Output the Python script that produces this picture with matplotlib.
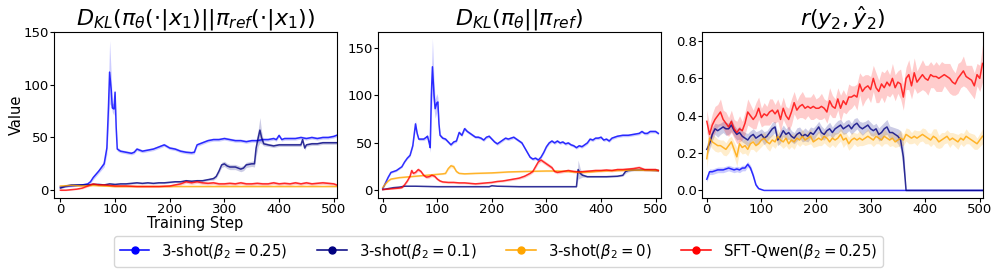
import numpy as np
import matplotlib
matplotlib.use("Agg")
import matplotlib.pyplot as plt
from matplotlib.lines import Line2D

# ---- panel 1 : D_KL(pi_theta(.|x1) || pi_ref(.|x1)) ----
kl1_blue_x = [0, 10, 20, 30, 40, 50, 55, 60, 70, 80, 85, 88, 90, 93, 95, 98, 100, 102, 104, 110,
              120, 130, 135, 140, 145, 150, 160, 170, 180, 190, 200, 210, 220, 230, 240, 245, 250,
              260, 270, 280, 290, 300, 310, 320, 330, 340, 350, 360, 370, 380, 390, 395, 400, 405,
              410, 420, 430, 440, 450, 460, 470, 480, 490, 500, 505]
kl1_blue_y = [3, 3.5, 4, 4.5, 5, 6, 8, 12, 18, 25, 40, 80, 112, 95, 78, 77, 93, 60, 39, 37,
              36, 35, 36, 39, 38, 37, 38, 39, 41, 43, 40, 39, 37, 36, 35.5, 36, 43,
              45, 47, 48, 48, 49, 48, 47, 47, 46, 47, 47, 48, 48, 49, 48, 52, 48,
              49, 49, 49, 50, 49, 50, 49, 50, 50, 51, 52]
kl1_blue_s = [0.8, 0.8, 0.8, 0.8, 0.8, 1, 1.5, 2, 2, 3, 6, 20, 30, 15, 4, 6, 2, 8, 2, 1.5,
              1.5, 1.5, 1.5, 1.5, 1.5, 1.5, 1.5, 1.5, 1.5, 1.5, 1.5, 1.5, 1.5, 1.5, 1.5, 1.5, 1.5,
              1.5, 1.5, 1.5, 1.5, 1.5, 1.5, 1.5, 1.5, 1.5, 1.5, 1.5, 1.5, 1.5, 1.5, 1.5, 1.5, 1.5,
              1.5, 1.5, 1.5, 1.5, 1.5, 1.5, 1.5, 1.5, 1.5, 1.5, 1.5]

kl1_navy_x = [0, 10, 20, 30, 40, 50, 60, 70, 80, 90, 100, 110, 120, 130, 140, 150, 160, 170, 180,
              190, 200, 210, 220, 230, 240, 250, 260, 270, 280, 285, 290, 295, 300, 305, 310, 320,
              330, 335, 340, 350, 355, 358, 362, 365, 368, 372, 380, 390, 400, 410, 420, 430, 440,
              443, 447, 450, 460, 470, 480, 490, 500, 505]
kl1_navy_y = [2, 4, 5, 5, 5, 5, 5.5, 5.5, 5, 6, 5.5, 6, 6, 6.5, 7, 6.5, 7, 6.5, 7,
              7, 7.5, 8, 8, 9, 8.5, 9, 9, 10, 11, 13, 18, 24, 25, 23, 22, 22,
              20, 21, 24, 25, 25, 40, 50, 57, 50, 44, 43, 42, 43, 43, 43, 43, 43,
              48, 40, 43, 44, 44, 45, 45, 45, 45]
kl1_navy_s = [0.8, 0.8, 0.8, 0.8, 0.8, 0.8, 0.8, 0.8, 0.8, 0.8, 0.8, 0.8, 0.8, 0.8, 0.8, 0.8, 0.8, 0.8, 0.8,
              0.8, 0.8, 0.8, 0.8, 1, 1, 1, 1, 1, 1.5, 1.5, 2, 2.5, 2.5, 2.5, 2.5, 2.5,
              2.5, 2.5, 2.5, 2.5, 3, 8, 8, 12, 6, 2, 1.5, 1.5, 1.5, 1.5, 1.5, 1.5, 1.5,
              2, 2, 1.5, 1.5, 1.5, 1.5, 1.5, 1.5, 1.5]

kl1_orange_x = [0, 20, 40, 60, 80, 100, 150, 200, 250, 300, 350, 400, 450, 505]
kl1_orange_y = [4, 4.5, 4, 4.5, 4, 3.5, 3.5, 3.5, 3.5, 3.5, 3.5, 3.5, 3.5, 3.5]
kl1_orange_s = [0.5, 0.5, 0.5, 0.5, 0.5, 0.5, 0.5, 0.5, 0.5, 0.5, 0.5, 0.5, 0.5, 0.5]

kl1_red_x = [0, 10, 20, 30, 40, 50, 60, 70, 80, 90, 100, 120, 140, 160, 180, 200, 210, 220, 230,
             240, 250, 260, 270, 280, 290, 300, 310, 320, 330, 340, 350, 360, 370, 380, 390, 400,
             410, 420, 430, 440, 450, 460, 470, 480, 490, 500, 505]
kl1_red_y = [0, 0, 0.5, 1, 2, 4, 6, 5, 5, 4.5, 4, 4, 3.5, 3.5, 3.5, 4, 5, 6, 8,
             7, 8, 7, 6.5, 7, 6, 6, 6.5, 6, 7, 6, 6, 6.5, 6, 6, 7, 6,
             6.5, 6, 7, 6, 7, 6, 6.5, 7, 6.5, 6, 5]
kl1_red_s = [0.5, 0.5, 0.5, 0.5, 0.8, 1, 1, 1, 1, 1, 1, 1, 1, 1, 1, 1, 1.2, 1.2, 1.5,
             1.5, 1.5, 1.5, 1.5, 1.5, 1.5, 1.5, 1.5, 1.5, 1.5, 1.5, 1.5, 1.5, 1.5, 1.5, 1.5, 1.5,
             1.5, 1.5, 1.5, 1.5, 1.5, 1.5, 1.5, 1.5, 1.5, 1.5, 1.5]

# ---- panel 2 : D_KL(pi_theta || pi_ref) ----
kl2_blue_x = [0, 5, 10, 15, 20, 25, 30, 35, 40, 45, 50, 55, 60, 63, 66, 70, 75, 80, 82, 85, 87,
              89, 91, 94, 96, 99, 101, 103, 105, 110, 115, 120, 125, 130, 135, 140, 145, 150, 155,
              160, 165, 170, 175, 180, 185, 190, 195, 200, 205, 210, 215, 220, 225, 230, 235, 240,
              245, 250, 255, 260, 265, 270, 275, 280, 285, 290, 295, 300, 305, 310, 315, 320, 325,
              330, 335, 340, 345, 350, 355, 360, 365, 370, 375, 380, 385, 390, 395, 400, 405, 410,
              415, 420, 425, 430, 440, 450, 460, 470, 475, 480, 485, 490, 495, 500, 505]
kl2_blue_y = [2, 8, 14, 19, 20, 21, 23, 25, 30, 34, 37, 47, 70, 60, 54, 54, 54, 56, 57, 50, 45,
              100, 130, 100, 86, 92, 93, 70, 58, 55, 54, 51, 48, 51, 52, 61, 58, 65, 62,
              60, 58, 56, 56, 55, 53, 56, 57, 54, 51, 49, 51, 53, 55, 54, 55, 56,
              54, 52, 50, 45, 40, 35, 33, 34, 32, 35, 40, 46, 50, 52, 50, 52, 50,
              51, 49, 50, 48, 47, 45, 47, 46, 48, 50, 54, 53, 55, 55, 56, 53, 54,
              52, 55, 56, 57, 58, 58, 59, 60, 62, 60, 60, 62, 62, 62, 60]
kl2_blue_s = [0.5, 1, 1, 1, 1, 1, 1, 1, 1, 1, 1.5, 2, 4, 2, 1.5, 1.5, 1.5, 2, 2, 3, 5,
              20, 30, 15, 10, 10, 5, 3, 2, 1.5, 1.5, 1.5, 1.5, 1.5, 1.5, 2, 1.5, 2, 1.5,
              1.5, 1.5, 1.5, 1.5, 1.5, 1.5, 1.5, 1.5, 1.5, 1.5, 1.5, 1.5, 1.5, 1.5, 1.5, 1.5, 1.5,
              1.5, 1.5, 1.5, 1.5, 1.5, 1.5, 1.5, 1.5, 1.5, 1.5, 1.5, 1.5, 1.5, 1.5, 1.5, 1.5, 1.5,
              1.5, 1.5, 1.5, 1.5, 1.5, 1.5, 1.5, 1.5, 1.5, 1.5, 1.5, 1.5, 1.5, 1.5, 1.5, 1.5, 1.5,
              1.5, 1.5, 1.5, 1.5, 1.5, 1.5, 1.5, 1.5, 1.5, 1.5, 1.5, 1.5, 1.5, 1.5, 1.5]

kl2_orange_x = [0, 5, 10, 15, 20, 30, 40, 50, 60, 70, 80, 90, 100, 110, 115, 120, 125, 130, 135,
                140, 150, 170, 200, 230, 260, 300, 320, 340, 360, 380, 400, 430, 460, 505]
kl2_orange_y = [3, 7, 10, 12, 12.5, 13.5, 14, 14.5, 15, 15.5, 16, 16.5, 17, 17.5, 18, 23, 26, 25, 20,
                18, 17.5, 18, 18.5, 19.5, 20, 20.5, 20.5, 20, 19, 19.5, 20.5, 21, 21.5, 21]
kl2_orange_s = [0.5, 0.8, 0.8, 0.8, 0.8, 0.8, 0.8, 0.8, 0.8, 0.8, 0.8, 0.8, 0.8, 0.8, 1, 1.5, 2, 2, 1.5,
                0.8, 0.8, 0.8, 0.8, 0.8, 0.8, 0.8, 0.8, 0.8, 0.8, 0.8, 0.8, 0.8, 0.8, 0.8]

kl2_red_x = [0, 10, 20, 30, 35, 40, 45, 50, 53, 56, 60, 65, 70, 75, 80, 85, 90, 95, 100, 105, 110,
             120, 130, 140, 150, 160, 170, 180, 190, 200, 210, 220, 230, 240, 250, 260, 270, 275,
             280, 285, 290, 295, 300, 305, 310, 315, 320, 330, 340, 350, 360, 370, 380, 390, 400,
             410, 420, 430, 440, 450, 460, 470, 480, 490, 500, 505]
kl2_red_y = [1, 1.5, 2, 2.5, 3, 6, 10, 15, 21, 18, 19, 22, 20, 16, 14, 14.5, 16, 15, 12, 10, 9,
             8.5, 8.5, 8, 8, 7.5, 7, 7.5, 8, 8.5, 9.5, 10, 11, 12, 13, 15, 18, 20,
             25, 30, 32, 30, 28, 26, 24, 20, 19, 20, 21, 20, 19.5, 20, 20.5, 21, 21,
             21.5, 21, 22, 22, 22.5, 23, 24, 22, 22, 22, 21]
kl2_red_s = [0.5, 0.5, 0.5, 0.8, 0.8, 1, 1.5, 1.5, 2, 1.5, 1.5, 2, 1.5, 1.5, 1.5, 1.5, 1.5, 1.5, 1.5, 1.2, 1,
             1, 1, 1, 1, 1, 1, 1, 1, 1, 1, 1, 1.2, 1.2, 1.2, 1.5, 1.5, 1.5,
             2, 2, 2, 2, 2, 2, 2, 1.5, 1.5, 1.5, 1.5, 1.5, 1.5, 1.5, 1.5, 1.5, 1.5,
             1.5, 1.5, 1.5, 1.5, 1.5, 2, 2, 1.5, 1.5, 1.5, 1.5]

kl2_navy_x = [0, 10, 20, 30, 40, 60, 100, 150, 195, 200, 210, 250, 300, 355, 358, 362, 366, 375,
              390, 410, 430, 440, 445, 450, 460, 480, 505]
kl2_navy_y = [1, 2, 3, 3.5, 4.5, 4.5, 4, 4, 4, 5, 4.5, 4, 4, 4, 22, 18, 16, 14.5,
              14.5, 14.5, 15, 16, 20, 21, 21.5, 21.5, 21]
kl2_navy_s = [0.3, 0.3, 0.3, 0.3, 0.3, 0.3, 0.3, 0.3, 0.3, 0.3, 0.3, 0.3, 0.3, 0.3, 10, 5, 2, 0.8,
              0.8, 0.8, 0.8, 1, 2, 1.5, 0.8, 0.8, 0.8]

# ---- panel 3 : r(y2, y2_hat), logged every 5 steps ----
r3_red = [0.37, 0.30, 0.35, 0.38, 0.40, 0.42, 0.38, 0.36, 0.34, 0.37, 0.33, 0.31, 0.33, 0.32, 0.36,
          0.42, 0.40, 0.38, 0.40, 0.44, 0.39, 0.41, 0.40, 0.42, 0.43, 0.41, 0.43, 0.38, 0.44, 0.40,
          0.38, 0.42, 0.47, 0.43, 0.45, 0.46, 0.44, 0.45, 0.44, 0.45, 0.44, 0.44, 0.45, 0.44, 0.42,
          0.48, 0.45, 0.44, 0.49, 0.44, 0.48, 0.46, 0.50, 0.50, 0.51, 0.50, 0.57, 0.53, 0.55, 0.56,
          0.54, 0.60, 0.55, 0.53, 0.57, 0.55, 0.58, 0.56, 0.60, 0.55, 0.58, 0.57, 0.50, 0.60, 0.62,
          0.56, 0.63, 0.58, 0.60, 0.62, 0.60, 0.59, 0.62, 0.61, 0.61, 0.60, 0.61, 0.62, 0.61, 0.60,
          0.58, 0.57, 0.60, 0.62, 0.64, 0.61, 0.60, 0.59, 0.56, 0.62, 0.60, 0.68]
r3_red_s = [0.06, 0.05, 0.06, 0.07, 0.06, 0.07, 0.05, 0.06, 0.05, 0.06, 0.05, 0.06, 0.07, 0.05, 0.06,
            0.07, 0.06, 0.05, 0.07, 0.06, 0.05,
            0.06, 0.05, 0.07, 0.06, 0.05, 0.06, 0.07, 0.06, 0.05, 0.06, 0.07, 0.06, 0.05, 0.06, 0.07,
            0.06, 0.05, 0.06, 0.07, 0.05,
            0.06, 0.07, 0.05, 0.06, 0.07, 0.06, 0.05, 0.06, 0.07, 0.06, 0.05, 0.07, 0.06, 0.05, 0.07,
            0.06, 0.08, 0.07, 0.06, 0.07,
            0.07, 0.08, 0.06, 0.07, 0.08, 0.07, 0.06, 0.08, 0.07, 0.06, 0.08, 0.07, 0.06, 0.08, 0.07,
            0.08, 0.06, 0.07, 0.08, 0.07,
            0.08, 0.07, 0.06, 0.08, 0.07, 0.08, 0.06, 0.07, 0.08, 0.07, 0.06, 0.08, 0.07, 0.08, 0.06,
            0.07, 0.08, 0.07, 0.06, 0.07, 0.10]

r3_orange = [0.17, 0.28, 0.26, 0.25, 0.24, 0.24, 0.23, 0.22, 0.24, 0.26, 0.22, 0.18, 0.25, 0.23, 0.24,
             0.22, 0.25, 0.26, 0.24, 0.25, 0.27, 0.28, 0.26, 0.25, 0.27, 0.26, 0.29, 0.27, 0.26, 0.28,
             0.25, 0.27, 0.26, 0.28, 0.27, 0.29, 0.27, 0.28, 0.29, 0.26, 0.27, 0.28, 0.27, 0.29, 0.28,
             0.26, 0.28, 0.27, 0.28, 0.30, 0.27, 0.28, 0.25, 0.27, 0.28, 0.27, 0.28, 0.27, 0.28, 0.29,
             0.28, 0.27, 0.29, 0.28, 0.27, 0.29, 0.28, 0.27, 0.28, 0.26, 0.27, 0.28, 0.27, 0.30, 0.29,
             0.28, 0.29, 0.28, 0.29, 0.30, 0.29, 0.28, 0.27, 0.29, 0.28, 0.26, 0.27, 0.28, 0.29, 0.27,
             0.28, 0.27, 0.26, 0.28, 0.27, 0.29, 0.28, 0.27, 0.26, 0.25, 0.27, 0.29]
r3_orange_s = [0.05, 0.04, 0.035, 0.04, 0.035, 0.03, 0.04, 0.035, 0.04, 0.03, 0.04, 0.05, 0.04, 0.035, 0.04,
               0.035, 0.03, 0.04, 0.035, 0.03, 0.035,
               0.03, 0.035, 0.04, 0.03, 0.035, 0.04, 0.03, 0.035, 0.04, 0.03, 0.035, 0.04, 0.03, 0.035, 0.04,
               0.03, 0.035, 0.04, 0.03, 0.035,
               0.04, 0.03, 0.035, 0.04, 0.03, 0.035, 0.04, 0.03, 0.035, 0.04, 0.03, 0.035, 0.04, 0.03, 0.035,
               0.04, 0.03, 0.035, 0.04, 0.03,
               0.035, 0.04, 0.03, 0.035, 0.04, 0.03, 0.035, 0.04, 0.03, 0.035, 0.04, 0.03, 0.035, 0.04, 0.03,
               0.035, 0.04, 0.03, 0.035, 0.04,
               0.03, 0.035, 0.04, 0.05, 0.035, 0.04, 0.03, 0.035, 0.04, 0.03, 0.035, 0.04, 0.03, 0.035, 0.04,
               0.03, 0.035, 0.04, 0.03, 0.035, 0.04]

r3_navy = [0.22, 0.25, 0.30, 0.33, 0.32, 0.33, 0.34, 0.33, 0.33, 0.35, 0.32, 0.30, 0.31, 0.29, 0.28,
           0.27, 0.29, 0.30, 0.28, 0.29, 0.30, 0.28, 0.29, 0.31, 0.33, 0.34, 0.27, 0.29, 0.32, 0.30,
           0.31, 0.29, 0.28, 0.30, 0.31, 0.29, 0.30, 0.29, 0.31, 0.30, 0.32, 0.34, 0.31, 0.30, 0.32,
           0.33, 0.31, 0.33, 0.34, 0.35, 0.33, 0.34, 0.35, 0.33, 0.35, 0.36, 0.34, 0.33, 0.34, 0.35,
           0.33, 0.32, 0.33, 0.30, 0.31, 0.33, 0.34, 0.31, 0.31, 0.30, 0.29, 0.27, 0.18, 0.0] + [0.0] * 28
r3_navy_s = [0.03, 0.03, 0.035, 0.03, 0.035, 0.03, 0.03, 0.035, 0.03, 0.035, 0.03, 0.03, 0.035, 0.03, 0.03,
             0.035, 0.03, 0.03, 0.035, 0.03, 0.03, 0.035, 0.03, 0.03, 0.035, 0.03, 0.03, 0.035, 0.03, 0.03,
             0.035, 0.03, 0.03, 0.035, 0.03, 0.03, 0.035, 0.03, 0.03, 0.035, 0.03, 0.03, 0.035, 0.03, 0.03,
             0.035, 0.03, 0.03, 0.035, 0.03, 0.03, 0.035, 0.03, 0.03, 0.035, 0.03, 0.03, 0.035, 0.03, 0.03,
             0.035, 0.03, 0.03, 0.035, 0.04, 0.035, 0.04, 0.035, 0.03, 0.035, 0.04, 0.05, 0.08, 0.0] + [0.0] * 28

r3_blue_x = [0, 5, 10, 15, 20, 25, 30, 35, 40, 45, 50, 55, 60, 65, 70, 75, 80, 85, 90, 95, 100, 105, 505]
r3_blue_y = [0.06, 0.10, 0.10, 0.105, 0.11, 0.11, 0.11, 0.115, 0.12, 0.115, 0.11, 0.115, 0.11, 0.12,
             0.12, 0.14, 0.12, 0.08, 0.03, 0.01, 0.005, 0.0, 0.0]
r3_blue_s = [0.015, 0.015, 0.015, 0.015, 0.015, 0.015, 0.015, 0.015, 0.015, 0.015, 0.015, 0.015, 0.015,
             0.015, 0.015, 0.015, 0.015, 0.015, 0.01, 0.005, 0.003, 0.0, 0.0]

series_labels = ['3-shot($\\beta_2=0.25$)', '3-shot($\\beta_2=0.1$)',
                 '3-shot($\\beta_2=0$)', 'SFT-Qwen($\\beta_2=0.25$)']
series_colors = ['blue', 'navy', 'orange', 'red']


def draw(ax, x, y, s, color):
    x = np.asarray(x, dtype=float)
    y = np.asarray(y, dtype=float)
    s = np.asarray(s, dtype=float)
    ax.fill_between(x, y - s, y + s, color=color, alpha=0.2, linewidth=0)
    ax.plot(x, y, color=color, lw=1.1, alpha=0.8)


fig = plt.figure(figsize=(9.97, 2.74), dpi=100)
ax1 = fig.add_axes([0.054, 0.277, 0.284, 0.606])
ax2 = fig.add_axes([0.379, 0.277, 0.284, 0.606])
ax3 = fig.add_axes([0.704, 0.277, 0.282, 0.606])

draw(ax1, kl1_blue_x, kl1_blue_y, kl1_blue_s, 'blue')
draw(ax1, kl1_navy_x, kl1_navy_y, kl1_navy_s, 'navy')
draw(ax1, kl1_orange_x, kl1_orange_y, kl1_orange_s, 'orange')
draw(ax1, kl1_red_x, kl1_red_y, kl1_red_s, 'red')

draw(ax2, kl2_blue_x, kl2_blue_y, kl2_blue_s, 'blue')
draw(ax2, kl2_navy_x, kl2_navy_y, kl2_navy_s, 'navy')
draw(ax2, kl2_orange_x, kl2_orange_y, kl2_orange_s, 'orange')
draw(ax2, kl2_red_x, kl2_red_y, kl2_red_s, 'red')

r3_steps = np.arange(len(r3_red)) * 5
draw(ax3, r3_blue_x, r3_blue_y, r3_blue_s, 'blue')
draw(ax3, r3_steps, r3_navy, r3_navy_s, 'navy')
draw(ax3, r3_steps, r3_orange, r3_orange_s, 'orange')
draw(ax3, r3_steps, r3_red, r3_red_s, 'red')

ax1.set_xlim(-12, 506)
ax1.set_ylim(-7.5, 150)
ax1.set_yticks([0, 50, 100, 150])
ax2.set_xlim(-9, 510)
ax2.set_ylim(-8, 166.5)
ax2.set_yticks([0, 50, 100, 150])
ax3.set_xlim(-9, 506)
ax3.set_ylim(-0.041, 0.848)
ax3.set_yticks([0.0, 0.2, 0.4, 0.6, 0.8])

for ax in (ax1, ax2, ax3):
    ax.set_xticks([0, 100, 200, 300, 400, 500])
    ax.tick_params(labelsize=9.5, length=3, pad=0.6)

ax1.set_title(r'$D_{KL}(\pi_\theta(\cdot|x_1)||\pi_{ref}(\cdot|x_1))$', fontsize=16, pad=1.5)
ax2.set_title(r'$D_{KL}(\pi_\theta||\pi_{ref})$', fontsize=16, pad=1.5)
ax3.set_title(r'$r(y_2,\hat{y}_2)$', fontsize=16, pad=1.5)
ax1.set_xlabel('Training Step', fontsize=10.5, labelpad=0)
ax1.set_ylabel('Value', fontsize=10.5, labelpad=0)

handles = [Line2D([0], [0], color=c, marker='o', markersize=5, lw=1.1) for c in series_colors]
fig.legend(handles, series_labels, loc='lower center', ncol=4, fontsize=10.7,
           bbox_to_anchor=(0.5, 0.0))

fig.savefig('out.png', dpi=100)
